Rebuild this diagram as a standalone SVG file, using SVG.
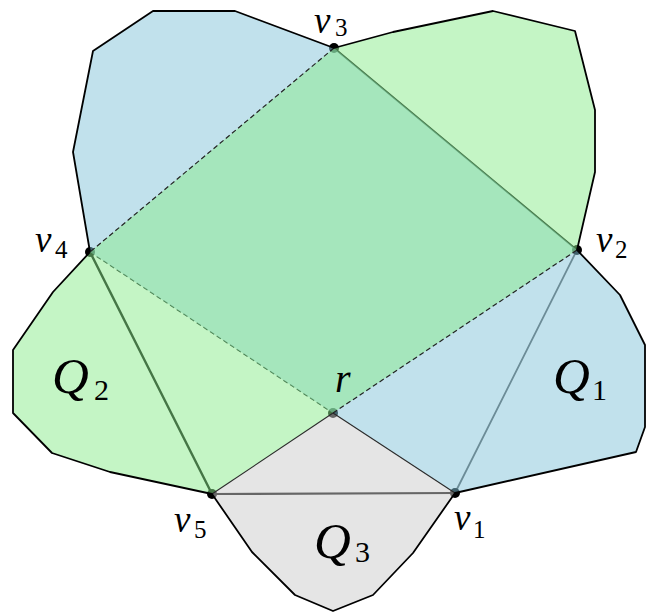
<svg xmlns="http://www.w3.org/2000/svg" width="648" height="613" viewBox="0 0 648 613">
<style>
.fill{stroke:none;fill-opacity:0.5}
.under{stroke:#000;stroke-linecap:round;fill:none}
.dash{stroke:#222;stroke-width:1.2;stroke-dasharray:5 3;fill:none}
.outline{stroke:#000;stroke-width:1.8;fill:none;stroke-linejoin:round}
.dot{fill:#000}
.lab{font-family:"Liberation Serif","DejaVu Serif",serif;font-style:italic;fill:#000}
.sub{font-family:"Liberation Serif","DejaVu Serif",serif;fill:#000}
</style>
<rect width="648" height="613" fill="#fff"/>
<g id="connectors">
  <line class="under" x1="334" y1="48" x2="577" y2="250" stroke-width="1.7"/>
  <line class="under" x1="90" y1="252" x2="212" y2="494" stroke-width="2.4"/>
  <line class="under" x1="577" y1="250" x2="455" y2="493" stroke-width="1.8" style="stroke:#555"/>
  <line class="under" x1="212" y1="494" x2="455" y2="493" stroke-width="2.2"/>
  <line class="dash" x1="90" y1="252" x2="333" y2="413" style="stroke:#000"/>
</g>
<g id="vertices">
  <g id="v1"><circle class="dot" cx="455" cy="493" r="5"/></g>
  <g id="v2"><circle class="dot" cx="577" cy="250" r="5"/></g>
  <g id="v3"><circle class="dot" cx="334" cy="48" r="5"/></g>
  <g id="v4"><circle class="dot" cx="90" cy="252" r="5"/></g>
  <g id="v5"><circle class="dot" cx="212" cy="494" r="5"/></g>
  <g id="r"><circle class="dot" cx="333" cy="413" r="5"/></g>
</g>
<g id="Q1">
  <polygon class="fill" fill="#83c3d9" points="90,252 73,152 93,51 153,11 235,11 334,48 577,250 620,295 645,345 645,427 636,452 455,493 333,413"/>
</g>
<g id="Q3">
  <polygon class="fill" fill="#cbcbcb" points="212,494 333,413 455,493 413,553 373,595 333,611 295,595 252,552"/>
</g>
<g id="Q2">
  <polygon class="fill" fill="#89eb8b" points="334,48 393,32 493,11 575,31 595,110 595,172 577,250 333,413 212,494 110,472 52,453 13,413 13,350 53,292 90,252"/>
</g>
<g id="edges">
  <line x1="333" y1="413" x2="455" y2="493" stroke="#2a2a2a" stroke-width="1.1"/>
  <line x1="333" y1="413" x2="212" y2="494" stroke="#2a2a2a" stroke-width="1.1"/>
  <line class="dash" x1="334" y1="48" x2="90" y2="252"/>
  <line class="dash" x1="333" y1="413" x2="577" y2="250"/>
  <polyline class="outline" points="90,252 73,152 93,51 153,11 235,11 334,48 393,32 493,11 575,31 595,110 595,172 577,250 620,295 645,345 645,427 636,452 455,493 413,553 373,595 333,611 295,595 252,552 212,494 110,472 52,453 13,413 13,350 53,292 90,252"/>
</g>
<g id="labels">
  <text class="lab" x="314" y="33" font-size="37">v</text><text class="sub" x="335" y="36" font-size="25">3</text>
  <text class="lab" x="35" y="252" font-size="37">v</text><text class="sub" x="55" y="258" font-size="25">4</text>
  <text class="lab" x="596" y="252" font-size="37">v</text><text class="sub" x="615" y="258" font-size="25">2</text>
  <text class="lab" x="454" y="530" font-size="37">v</text><text class="sub" x="473" y="538" font-size="25">1</text>
  <text class="lab" x="174" y="532" font-size="37">v</text><text class="sub" x="194" y="538" font-size="25">5</text>
  <text class="lab" x="335" y="392" font-size="40">r</text>
  <text class="lab" x="553" y="393" font-size="51">Q</text><text class="sub" x="592" y="400" font-size="30">1</text>
  <text class="lab" x="52" y="393" font-size="51">Q</text><text class="sub" x="94" y="400" font-size="30">2</text>
  <text class="lab" x="314" y="558" font-size="51">Q</text><text class="sub" x="355" y="562" font-size="30">3</text>
</g>
</svg>
